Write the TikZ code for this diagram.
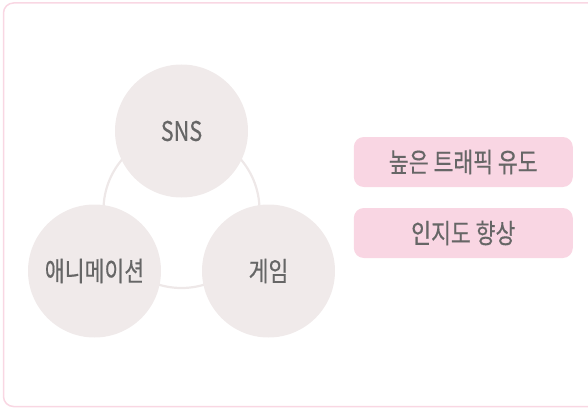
\documentclass[tikz,border=0pt]{standalone}
\usepackage{fontspec}
\setmainfont{Noto Sans CJK KR}[FakeStretch=0.8,FakeBold=0.4]
\usepackage{xcolor}
\usepackage{tikz}
\usetikzlibrary{shapes,positioning}
\definecolor{framepink}{HTML}{F9D7E3}
\definecolor{boxpink}{HTML}{F9D6E3}
\definecolor{bubble}{HTML}{F0EAEA}
\definecolor{ringgray}{HTML}{EEE8E8}
\definecolor{txtgray}{HTML}{666666}

\begin{document}
\begin{tikzpicture}[x=1pt,y=-1pt,
	bubble/.style={circle,fill=bubble,minimum size=133pt,inner sep=0pt,text=txtgray,font=\fontsize{27}{30}\selectfont},
	goal/.style={rectangle,rounded corners=10pt,fill=boxpink,minimum width=219pt,minimum height=50pt,inner sep=0pt,text=txtgray,font=\fontsize{27}{30}\selectfont}]
\useasboundingbox (0,0) rectangle (588,409);
\draw[framepink,line width=1.5pt,rounded corners=10pt] (3.5,3) rectangle (610,406.5);

% ring behind the three bubbles
\node[circle,draw=ringgray,line width=2.2pt,minimum size=156pt,inner sep=0pt,name=ring] at (181.5,210) {};

\node[bubble,name=SNS] at (181.5,131) {SNS};
\node[bubble,name=Ani] at (94.5,271) {애니메이션};
\node[bubble,name=Game] at (268.5,271) {게임};

\node[goal,name=Traffic] at (463.3,162) {높은 트래픽 유도};
\node[goal,name=Aware] at (463.3,233) {인지도 향상};

\end{tikzpicture}
\end{document}
